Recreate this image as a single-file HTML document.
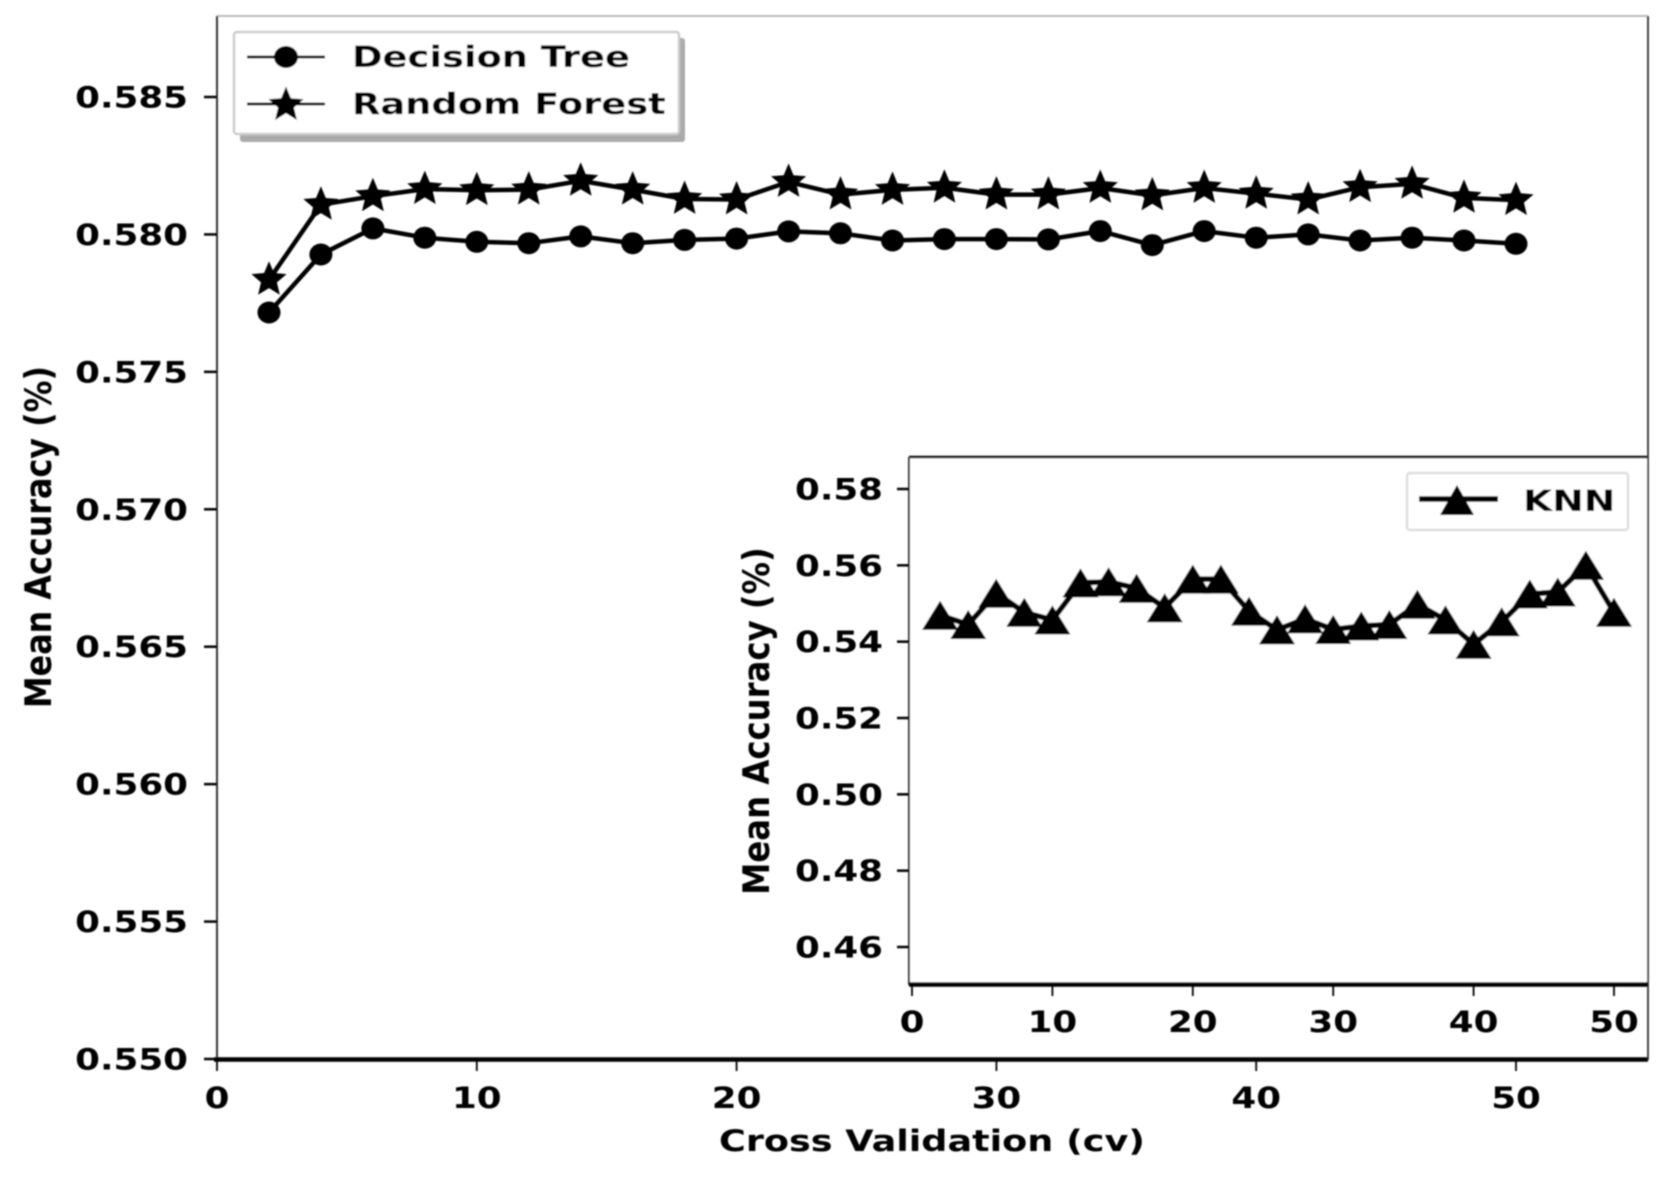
<!DOCTYPE html>
<html>
<head>
<meta charset="utf-8">
<title>Mean Accuracy vs Cross Validation</title>
<style>
html,body{margin:0;padding:0;background:#fff;width:1667px;height:1181px;overflow:hidden}
svg{display:block}
text{font-family:"DejaVu Sans","Liberation Sans",sans-serif;font-weight:bold;fill:#000}
</style>
</head>
<body>
<svg id="chart" xmlns="http://www.w3.org/2000/svg" width="1667" height="1181" viewBox="0 0 1667 1181">
  <defs><filter id="soft" x="-2%" y="-2%" width="104%" height="104%"><feGaussianBlur stdDeviation="0.7"/></filter></defs>
  <rect x="0" y="0" width="1667" height="1181" fill="#fff"/>
  <g id="root" filter="url(#soft)">
    <g id="main-axes">
      <line x1="217" y1="16" x2="1648" y2="16" stroke="#bbb" stroke-width="2"/>
      <line x1="217" y1="16" x2="217" y2="1060" stroke="#333" stroke-width="2"/>
      <line x1="1648" y1="16" x2="1648" y2="1060" stroke="#444" stroke-width="2"/>
      <line x1="214" y1="1059.5" x2="1648" y2="1059.5" stroke="#000" stroke-width="4.5"/>
    </g>
    <g id="main-ticks"></g>
    <g id="main-series"></g>
    <g id="main-legend">
      <rect x="240" y="38" width="445" height="104" rx="3" fill="#aaa"/>
      <rect x="234" y="32" width="445" height="102" rx="3" fill="#fff" stroke="#ccc" stroke-width="2.5"/>
      <line x1="247" y1="57" x2="325" y2="57" stroke="#000" stroke-width="3"/>
      <ellipse cx="286" cy="57" rx="12" ry="11" fill="#000"/>
      <text transform="translate(352 67) scale(1.27 1)" font-size="29">Decision Tree</text>
      <line x1="247" y1="104" x2="325" y2="104" stroke="#000" stroke-width="3"/>
      <path id="legend-star" fill="#000"/>
      <text transform="translate(352 114) scale(1.27 1)" font-size="29">Random Forest</text>
    </g>
    <text transform="translate(51 537) rotate(-90) scale(1.136 1.3)" font-size="28" text-anchor="middle">Mean Accuracy (%)</text>
    <text transform="translate(932 1151) scale(1.24 1)" font-size="29.5" text-anchor="middle">Cross Validation (cv)</text>

    <g id="inset-axes">
      <rect x="909" y="457" width="739" height="527" fill="#fff"/>
      <line x1="909" y1="457" x2="1648" y2="457" stroke="#111" stroke-width="2.5"/>
      <line x1="909" y1="457" x2="909" y2="985" stroke="#333" stroke-width="2"/>
      <line x1="1648" y1="457" x2="1648" y2="985" stroke="#444" stroke-width="2"/>
      <line x1="909" y1="984.5" x2="1648" y2="984.5" stroke="#000" stroke-width="4.5"/>
    </g>
    <g id="inset-ticks"></g>
    <g id="inset-series"></g>
    <g id="inset-legend">
      <rect x="1407" y="473" width="221" height="57" rx="3" fill="#fff" stroke="#ddd" stroke-width="2.5"/>
      <line x1="1419" y1="499" x2="1498" y2="499" stroke="#000" stroke-width="5.5"/>
      <polygon points="1457,485 1474,515 1440,515" fill="#000"/>
      <text transform="translate(1523 511) scale(1.3 1)" font-size="29">KNN</text>
    </g>
    <text transform="translate(769 721) rotate(-90) scale(1.155 1.3)" font-size="28" text-anchor="middle">Mean Accuracy (%)</text>
  </g>
</svg>
<script>
const cvValues = [2,4,6,8,10,12,14,16,18,20,22,24,26,28,30,32,34,36,38,40,42,44,46,48,50];
const decisionTreeValues = [0.57716,0.57927,0.58022,0.57988,0.57973,0.57968,0.57993,0.57968,0.5798,0.57985,0.58011,0.58004,0.57978,0.57983,0.57983,0.57982,0.58012,0.57961,0.58012,0.57988,0.58,0.57978,0.57988,0.57978,0.57966];
const randomForestValues = [0.57835,0.58108,0.58139,0.58165,0.58161,0.58163,0.58195,0.58163,0.58129,0.58127,0.58191,0.58145,0.58162,0.5817,0.58145,0.58145,0.58169,0.58142,0.58169,0.58148,0.58127,0.58172,0.58184,0.58133,0.58125];
const knnValues = [0.5469,0.5445,0.5527,0.5477,0.5457,0.5554,0.5557,0.554,0.5489,0.5564,0.5564,0.548,0.5431,0.546,0.5432,0.5441,0.5445,0.5498,0.5457,0.5393,0.5452,0.5525,0.553,0.56,0.5477];
const mainYTicks = [0.55,0.555,0.56,0.565,0.57,0.575,0.58,0.585];
const mainYTickLabels = ["0.550","0.555","0.560","0.565","0.570","0.575","0.580","0.585"];
const mainXTicks = [0,10,20,30,40,50];
const mainXTickLabels = ["0","10","20","30","40","50"];
const insetYTicks = [0.46,0.48,0.5,0.52,0.54,0.56,0.58];
const insetYTickLabels = ["0.46","0.48","0.50","0.52","0.54","0.56","0.58"];
const insetXTicks = [0,10,20,30,40,50];
const insetXTickLabels = ["0","10","20","30","40","50"];

const NS = "http://www.w3.org/2000/svg";
function xMain(v){ return 217 + v * 25.98; }
function yMain(v){ return 1059 - (v - 0.55) * (962 / 0.035); }
function xInset(v){ return 912 + v * 14.04; }
function yInset(v){ return 947 - (v - 0.46) * (458 / 0.12); }

function make(tag, parent){
  const el = document.createElementNS(NS, tag);
  parent.appendChild(el);
  return el;
}
function starPath(cx, cy, R){
  const r = R * 0.45;
  let d = "";
  for (let i = 0; i < 10; i++){
    const rad = i % 2 === 0 ? R : r;
    const a = -Math.PI / 2 + i * Math.PI / 5;
    d += (i ? "L" : "M") + (cx + rad * Math.cos(a)).toFixed(1) + " " + (cy + rad * Math.sin(a)).toFixed(1);
  }
  return d + "Z";
}
function tickLine(parent, x1, y1, x2, y2, w){
  const el = make("line", parent);
  el.setAttribute("x1", x1);
  el.setAttribute("y1", y1);
  el.setAttribute("x2", x2);
  el.setAttribute("y2", y2);
  el.setAttribute("stroke", "#000");
  el.setAttribute("stroke-width", w);
  
  
}
function tickText(parent, x, y, str, anchor){
  const el = make("text", parent);
  el.setAttribute("transform", "translate(" + x + " " + y + ") scale(1.23 1)");
  el.setAttribute("font-size", "29");
  el.setAttribute("text-anchor", anchor);
  el.textContent = str;
  
  
}
function linePath(parent, xs, ys, xf, yf, w){
  const el = make("polyline", parent);
  el.setAttribute("points", xs.map((v, i) => xf(v).toFixed(1) + "," + yf(ys[i]).toFixed(1)).join(" "));
  el.setAttribute("fill", "none");
  el.setAttribute("stroke", "#000");
  el.setAttribute("stroke-width", w);
  el.setAttribute("stroke-linejoin", "round");
  
  
}

const mainTicks = document.getElementById("main-ticks");
mainYTicks.forEach((v, i) => {
  tickLine(mainTicks, 204, yMain(v), 217, yMain(v), 2.5);
  tickText(mainTicks, 188, yMain(v) + 10.5, mainYTickLabels[i], "end");
});
mainXTicks.forEach((v, i) => {
  tickLine(mainTicks, xMain(v), 1059, xMain(v), 1071, 1.8);
  tickText(mainTicks, xMain(v), 1108, mainXTickLabels[i], "middle");
});

const insetTicks = document.getElementById("inset-ticks");
insetYTicks.forEach((v, i) => {
  tickLine(insetTicks, 897, yInset(v), 909, yInset(v), 2.5);
  tickText(insetTicks, 883, yInset(v) + 10.5, insetYTickLabels[i], "end");
});
insetXTicks.forEach((v, i) => {
  tickLine(insetTicks, xInset(v), 984, xInset(v), 996, 1.8);
  tickText(insetTicks, xInset(v), 1032, insetXTickLabels[i], "middle");
});

const mainSeries = document.getElementById("main-series");
linePath(mainSeries, cvValues, decisionTreeValues, xMain, yMain, 4.5);
linePath(mainSeries, cvValues, randomForestValues, xMain, yMain, 4.5);
cvValues.forEach((v, i) => {
  const c = make("ellipse", mainSeries);
  c.setAttribute("cx", xMain(v).toFixed(1));
  c.setAttribute("cy", yMain(decisionTreeValues[i]).toFixed(1));
  c.setAttribute("rx", 11.5);
  c.setAttribute("ry", 11);
  c.setAttribute("fill", "#000");
  
  
  const s = make("path", mainSeries);
  s.setAttribute("d", starPath(xMain(v), yMain(randomForestValues[i]), 18.5));
  s.setAttribute("fill", "#000");
  
  
});

const insetSeries = document.getElementById("inset-series");
linePath(insetSeries, cvValues, knnValues, xInset, yInset, 5.5);
cvValues.forEach((v, i) => {
  const x = xInset(v), y = yInset(knnValues[i]);
  const t = make("polygon", insetSeries);
  t.setAttribute("points", x.toFixed(1) + "," + (y - 14.5).toFixed(1) + " " + (x + 18).toFixed(1) + "," + (y + 14.5).toFixed(1) + " " + (x - 18).toFixed(1) + "," + (y + 14.5).toFixed(1));
  t.setAttribute("fill", "#000");
  
  
});

document.getElementById("legend-star").setAttribute("d", starPath(286, 105, 18.5));
</script>
</body>
</html>
